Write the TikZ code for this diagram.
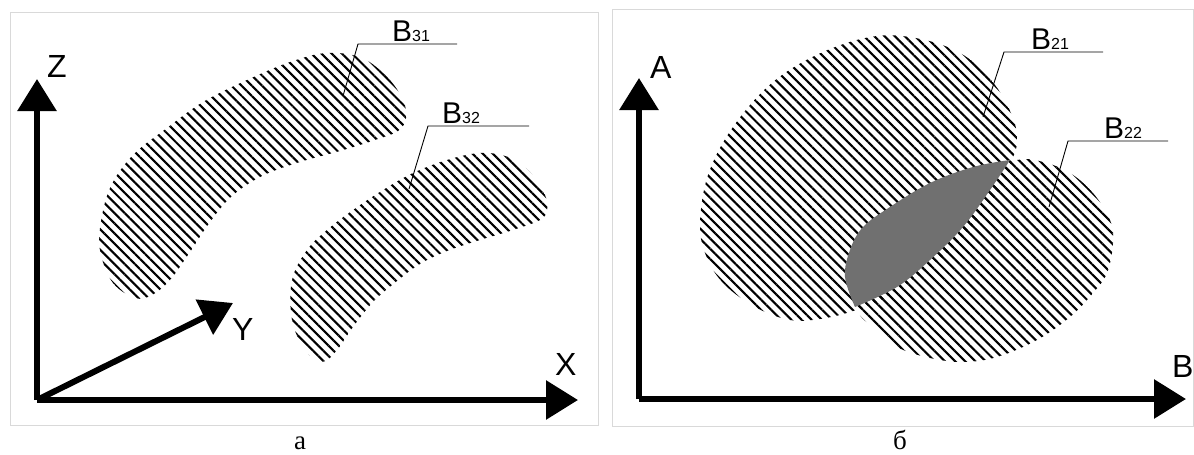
\documentclass[tikz,border=0pt]{standalone}
\usepackage{fontspec}
\setmainfont{Liberation Serif}
\newfontfamily\lsans{Liberation Sans}
\usetikzlibrary{arrows.meta,patterns.meta}
\begin{document}
\begin{tikzpicture}[x=1pt,y=-1pt,
  axis/.style={line width=6pt,-{Triangle[length=32pt,width=38pt]}},
  hatch/.style={pattern={Lines[angle=-45,distance=7.2pt,line width=2.1pt]}},
  frame/.style={draw=black!15,line width=0.8pt},
  leader/.style={line width=0.9pt},
  axlabel/.style={font=\lsans\fontsize{32}{32}\selectfont,inner sep=0pt,anchor=base west},
  reglabel/.style={inner sep=0pt,anchor=base west},
  panel/.style={font=\fontsize{27}{27}\selectfont,inner sep=0pt,anchor=base}]
\useasboundingbox (0,0) rectangle (1194,455);
% frames
\draw[frame] (10,12) rectangle (598,425);
\draw[frame] (612,9) rectangle (1193,426);
% ---------- left panel ----------
% B31
\fill[hatch] plot[smooth cycle, tension=0.6] coordinates {
 (135,298) (113,283) (101,255) (100,228) (110,188) (133,155) (167,128) (203,102)
 (247,80) (290,62) (327,53) (362,58) (388,78) (403,100) (406,118) (398,131)
 (375,140) (340,151) (300,162) (262,176) (232,196) (210,222) (190,252) (170,280) (152,295)};
% B32
\fill[hatch] plot[smooth cycle, tension=0.6] coordinates {
 (480,153) (508,157) (530,172) (545,195) (547,210) (540,220) (513,230) (480,240)
 (447,251) (420,264) (397,281) (373,302) (353,327) (337,350) (322,362) (305,350)
 (292,320) (292,280) (307,250) (327,230) (353,210) (383,190) (413,173) (447,160)};
% axes
\coordinate (o1) at (37,400);
\coordinate (zt) at (37,79);
\coordinate (xt) at (578,400);
\coordinate (yt) at (233,303);
\draw[axis] (o1) -- (zt);
\draw[axis] (o1) -- (xt);
\draw[axis] (o1) -- (yt);
\node[axlabel] (lz) at (47,77) {Z};
\node[axlabel] (ly) at (232,340) {Y};
\node[axlabel] (lx) at (555,375) {X};
% leaders
\coordinate (p31) at (343,96);
\coordinate (k31) at (358,44);
\coordinate (e31) at (457,44);
\draw[leader] (p31) -- (k31) -- (e31);
\node[reglabel] (l31) at (392,41) {\lsans\fontsize{30}{30}\selectfont B\fontsize{16}{16}\selectfont 31};
\coordinate (p32) at (409,189);
\coordinate (k32) at (428,126);
\coordinate (e32) at (529,126);
\draw[leader] (p32) -- (k32) -- (e32);
\node[reglabel] (l32) at (442,123) {\lsans\fontsize{30}{30}\selectfont B\fontsize{16}{16}\selectfont 32};
\node[panel] (pa) at (300,449) {а};
% ---------- right panel ----------
% B21
\fill[hatch] plot[smooth cycle, tension=0.6] coordinates {
 (700,225) (708,175) (733,127) (773,82) (823,52) (877,36) (925,40) (965,56)
 (995,85) (1013,118) (1017,142) (1012,160) (1000,190) (950,250) (890,295)
 (853,311) (820,319) (790,320) (757,308) (725,285) (707,258)};
% B22
\fill[hatch] plot[smooth cycle, tension=0.6] coordinates {
 (1017,160) (1043,162) (1070,173) (1093,193) (1110,220) (1113,243) (1107,273)
 (1093,293) (1070,317) (1037,340) (997,357) (963,362) (930,358) (897,347)
 (873,327) (858,310) (862,270) (900,215) (960,175)};
% grey region
\fill[black!56] plot[smooth, tension=0.6] coordinates {
 (1010,160) (973,167) (930,183) (890,207) (863,227) (850,250) (845,277) (855,307)}
 -- plot[smooth, tension=0.6] coordinates {
 (855,307) (897,287) (930,260) (963,227) (990,190) (1010,160)} -- cycle;
% axes
\coordinate (o2) at (639,399);
\coordinate (at) at (639,78);
\coordinate (bt) at (1186,399);
\draw[axis] (o2) -- (at);
\draw[axis] (o2) -- (bt);
\node[axlabel] (la) at (650,78) {A};
\node[axlabel] (lb) at (1172,377) {B};
% leaders
\coordinate (p21) at (983,117);
\coordinate (k21) at (1004,52);
\coordinate (e21) at (1103,52);
\draw[leader] (p21) -- (k21) -- (e21);
\node[reglabel] (l21) at (1031,49) {\lsans\fontsize{30}{30}\selectfont B\fontsize{16}{16}\selectfont 21};
\coordinate (p22) at (1049,207);
\coordinate (k22) at (1068,141);
\coordinate (e22) at (1168,141);
\draw[leader] (p22) -- (k22) -- (e22);
\node[reglabel] (l22) at (1104,138) {\lsans\fontsize{30}{30}\selectfont B\fontsize{16}{16}\selectfont 22};
\node[panel] (pb) at (900,449) {б};
\end{tikzpicture}
\end{document}
